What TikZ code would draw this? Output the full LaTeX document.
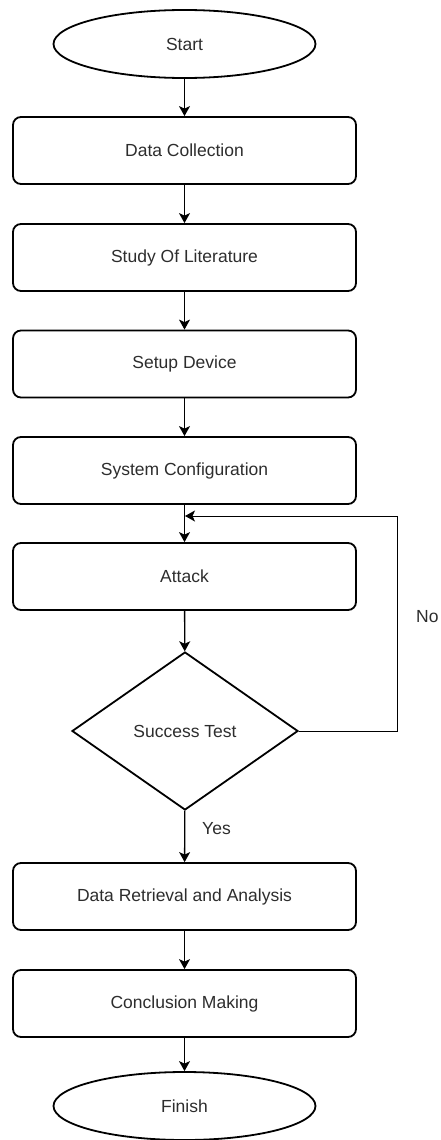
\documentclass[tikz,border=0pt]{standalone}
\usepackage{fontspec}
\setmainfont{Liberation Sans}
\usetikzlibrary{shapes.geometric,arrows.meta}
\definecolor{txt}{RGB}{45,45,45}
\begin{document}
\begin{tikzpicture}[x=1pt,y=-1pt,
  every node/.style={font=\fontsize{17.5}{20}\selectfont, text=txt},
  proc/.style={draw, line width=1.8pt, rounded corners=8pt, minimum width=343pt, minimum height=67pt, inner sep=0pt},
  term/.style={draw, ellipse, line width=1.8pt, minimum width=262pt, minimum height=68pt, inner sep=0pt},
  dec/.style={draw, diamond, line width=1.8pt, minimum width=226pt, minimum height=158pt, inner sep=0pt},
  conn/.style={line width=1.3pt, -{Stealth[length=10pt,width=11pt,inset=2.5pt]}},
  lbl/.style={anchor=west, inner sep=0pt}
]
\useasboundingbox (0,0) rectangle (440,1140);
\node[term] (start) at (184.5,44) {Start};
\node[proc] (dc) at (184.5,150.5) {Data Collection};
\node[proc] (sl) at (184.5,257.5) {Study Of Literature};
\node[proc] (sd) at (184.5,364) {Setup Device};
\node[proc] (sc) at (184.5,470.5) {System Configuration};
\node[proc] (at) at (184.5,576.5) {Attack};
\node[dec] (st) at (185,731) {Success Test};
\node[proc] (dr) at (184.5,896.5) {Data Retrieval and Analysis};
\node[proc] (cm) at (184.5,1003.5) {Conclusion Making};
\node[term] (fin) at (184.5,1106) {Finish};
\coordinate (loopin) at (185,516);
\coordinate (loopcorner) at (397,731);

\draw[conn] (start) -- (dc);
\draw[conn] (dc) -- (sl);
\draw[conn] (sl) -- (sd);
\draw[conn] (sd) -- (sc);
\draw[conn] (sc) -- (at);
\draw[conn] (at) -- (st);
\draw[conn] (st) -- (dr);
\draw[conn] (dr) -- (cm);
\draw[conn] (cm) -- (fin);
\draw[conn, line width=1pt] (st.east) -- (loopcorner) |- (loopin);

\node[lbl] (no) at (416,617) {No};
\node[lbl] (yes) at (202,829) {Yes};
\end{tikzpicture}
\end{document}
